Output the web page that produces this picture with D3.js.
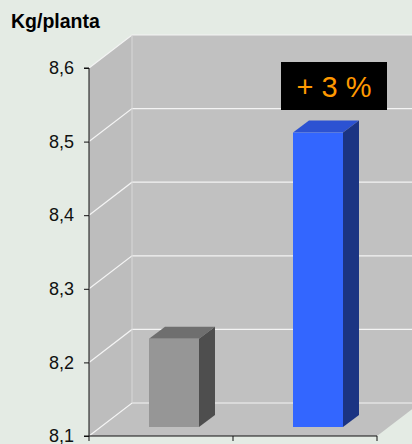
<!DOCTYPE html>
<html>
<head>
<meta charset="utf-8">
<script src="https://cdn.jsdelivr.net/npm/d3@7"></script>
<style>
  html, body { margin: 0; padding: 0; background: #e4ebe4; }
  svg { display: block; font-family: Arial, "Liberation Sans", sans-serif; }
</style>
</head>
<body>
<div id="chart"></div>
<script>
const categories = ["Testemunha", "Tratado"];
const values = [8.22, 8.5];
const yTicks = [8.1, 8.2, 8.3, 8.4, 8.5, 8.6];
const tickLabels = ["8,1", "8,2", "8,3", "8,4", "8,5", "8,6"];
const yTitle = "Kg/planta";
const callout = "+ 3 %";

const width = 412, height = 444;
const plotL = 89, plotR = 377, plotB = 436, plotT = 68;
// 3d depth of the plot box, and of the bars
const depth = [43, -33];
const barOff = [13, -9];
const barDepth = [16, -12];

const frontColors = ["#969696", "#3366ff"];
const topColors = ["#6f6f6f", "#2c52d2"];
const sideColors = ["#4e4e4e", "#1b3483"];

const svg = d3.select('#chart').append('svg')
  .attr('width', width)
  .attr('height', height);

const y = d3.scaleLinear().domain([8.1, 8.6]).range([plotB, plotT]);
const x = d3.scaleBand().domain(categories).range([plotL, plotR]).paddingInner(0).paddingOuter(0);

const pt = p => `${p[0]},${p[1]}`;
const poly = pts => 'M' + pts.map(pt).join('L') + 'Z';

// walls
const [dx, dy] = depth;
svg.append('path') // back wall
  .attr('d', poly([[plotL + dx, plotT + dy], [plotR + dx, plotT + dy], [plotR + dx, plotB + dy], [plotL + dx, plotB + dy]]))
  .attr('fill', '#c1c1c1');
svg.append('path') // side wall
  .attr('d', poly([[plotL, plotT], [plotL + dx, plotT + dy], [plotL + dx, plotB + dy], [plotL, plotB]]))
  .attr('fill', '#bdbdbd');
svg.append('path') // floor
  .attr('d', poly([[plotL, plotB], [plotL + dx, plotB + dy], [plotR + dx, plotB + dy], [plotR, plotB]]))
  .attr('fill', '#c0c0c0');

// gridlines
yTicks.forEach(v => {
  svg.append('path')
    .attr('d', `M${plotL},${y(v)}L${plotL + dx},${y(v) + dy}L${plotR + dx},${y(v) + dy}`)
    .attr('fill', 'none')
    .attr('stroke', '#f4f4f4')
    .attr('stroke-width', 1.2);
});
svg.append('line')
  .attr('x1', plotL + dx).attr('x2', plotL + dx)
  .attr('y1', plotT + dy).attr('y2', plotB + dy)
  .attr('stroke', '#d8d8d8');

// bars
const bw = 50;
categories.forEach((c, i) => {
  const x0 = x(c) + (x.bandwidth() - bw) / 2 + barOff[0];
  const x1 = x0 + bw;
  const yt = y(values[i]) + barOff[1];
  const yb = y(8.1) + barOff[1];
  const [bx, by] = barDepth;
  svg.append('path')
    .attr('d', poly([[x0, yt], [x0 + bx, yt + by], [x1 + bx, yt + by], [x1, yt]]))
    .attr('fill', topColors[i]);
  svg.append('path')
    .attr('d', poly([[x1, yt], [x1 + bx, yt + by], [x1 + bx, yb + by], [x1, yb]]))
    .attr('fill', sideColors[i]);
  svg.append('rect')
    .attr('x', x0).attr('y', yt)
    .attr('width', bw).attr('height', yb - yt)
    .attr('fill', frontColors[i]);
});

// axes
const yAxis = svg.append('g')
  .attr('transform', `translate(${plotL},0)`)
  .call(d3.axisLeft(y).tickValues(yTicks).tickSize(5).tickPadding(10)
    .tickFormat((d, i) => tickLabels[i]));
yAxis.select('.domain').attr('d', `M-5,${plotT}H0V${plotB}H-5`).attr('stroke', '#111');
yAxis.selectAll('.tick line').attr('stroke', '#111');
yAxis.selectAll('.tick text')
  .attr('font-size', 18)
  .attr('fill', '#111')
  .attr('font-family', 'Arial, "Liberation Sans", sans-serif');

svg.append('line')
  .attr('x1', plotL).attr('x2', plotR)
  .attr('y1', plotB).attr('y2', plotB)
  .attr('stroke', '#111').attr('stroke-width', 1.2);
const xEdges = [plotL].concat(categories.map(c => x(c) + x.bandwidth()));
xEdges.forEach(xe => {
  svg.append('line')
    .attr('x1', xe).attr('x2', xe)
    .attr('y1', plotB).attr('y2', plotB + 5)
    .attr('stroke', '#111');
});

// title
svg.append('text')
  .attr('x', 11).attr('y', 28)
  .attr('font-size', 19.5)
  .attr('font-weight', 'bold')
  .attr('fill', '#000')
  .text(yTitle);

// callout
svg.append('rect')
  .attr('x', 281).attr('y', 62)
  .attr('width', 106).attr('height', 48)
  .attr('fill', '#000');
svg.append('text')
  .attr('x', 334).attr('y', 97)
  .attr('text-anchor', 'middle')
  .attr('font-size', 29)
  .attr('fill', '#ff9900')
  .text(callout);
</script>
</body>
</html>
